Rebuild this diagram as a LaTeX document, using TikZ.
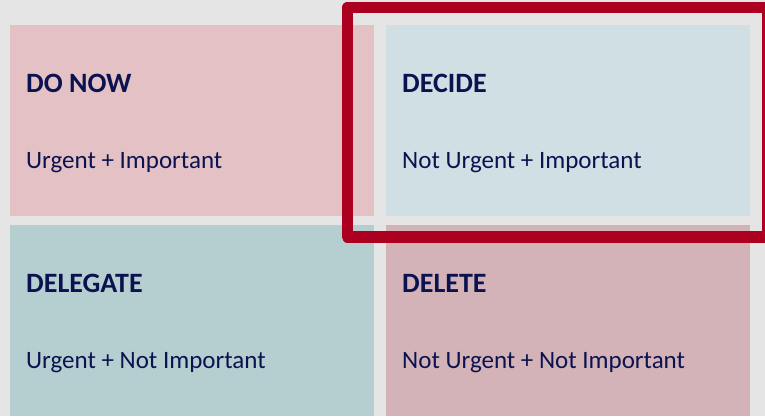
\documentclass[tikz,border=0pt]{standalone}
\usepackage{fontspec}
\setmainfont{Carlito}
\usepackage{xcolor}
\usepackage{tikz}
\usetikzlibrary{positioning}

\definecolor{pagegray}{HTML}{E5E5E5}
\definecolor{donowcol}{HTML}{E4C1C5}
\definecolor{decidecol}{HTML}{CFDFE4}
\definecolor{delegatecol}{HTML}{B5CECF}
\definecolor{deletecol}{HTML}{D3B3B8}
\definecolor{framered}{HTML}{AB0020}
\definecolor{inknavy}{HTML}{0B1250}

\begin{document}
\begin{tikzpicture}[x=1pt, y=-1pt,
                    quad/.style={anchor=north west, inner sep=0pt, minimum width=364pt, minimum height=191pt},
                    head/.style={anchor=base west, inner sep=0pt, text=inknavy, font=\fontsize{28}{30}\selectfont\bfseries},
                    sub/.style={anchor=base west, inner sep=0pt, text=inknavy, font=\fontsize{25}{27}\selectfont}]
        % page and the four quadrants
        \fill[pagegray] (0,0) rectangle (765,416);
        \useasboundingbox (0,0) rectangle (765,416);
        \node[quad, fill=donowcol] (donow) at (10,25) {};
        \node[quad, fill=decidecol] (decide) at (386,25) {};
        \node[quad, fill=delegatecol] (delegate) at (10,225) {};
        \node[quad, fill=deletecol] (delete) at (386,225) {};
        % titles and descriptions
        \node[head] (donowhead) at (26,92) {DO NOW};
        \node[sub] (donowsub) at (26,168) {Urgent + Important};
        \node[head] (decidehead) at (402,92) {DECIDE};
        \node[sub] (decidesub) at (402,168) {Not Urgent + Important};
        \node[head] (delegatehead) at (26,292) {DELEGATE};
        \node[sub] (delegatesub) at (26,368) {Urgent + Not Important};
        \node[head] (deletehead) at (402,292) {DELETE};
        \node[sub] (deletesub) at (402,368) {Not Urgent + Not Important};
        % highlight round the decide quadrant
        \draw[framered, line width=11.6pt, line join=round] (347.5,7.5) rectangle (767.5,236.7);
\end{tikzpicture}
\end{document}
